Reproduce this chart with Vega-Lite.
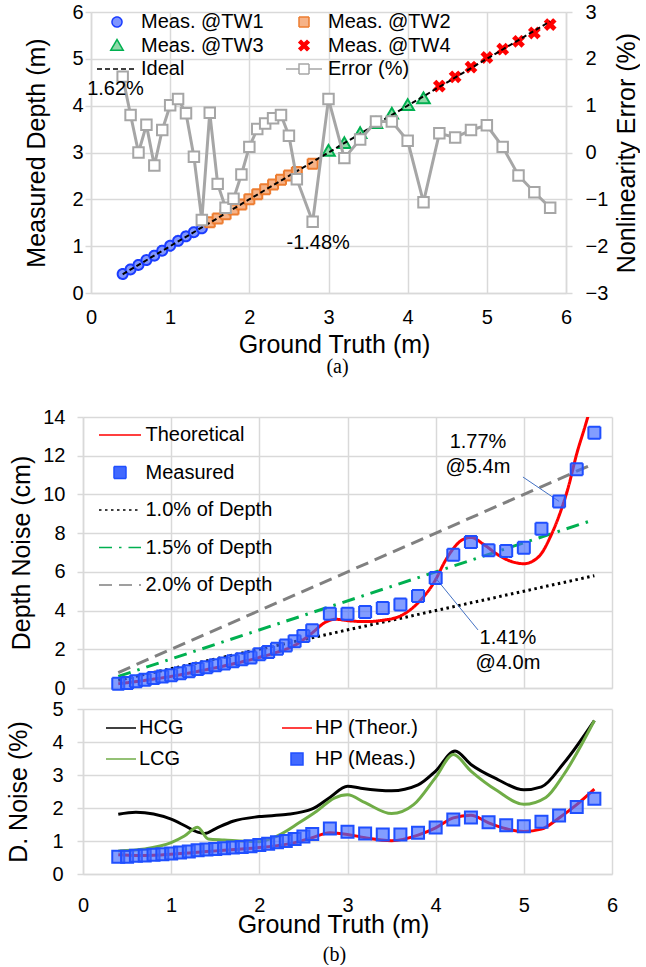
{
  "$schema": "https://vega.github.io/schema/vega-lite/v6.json",
  "padding": {"top": 2, "left": 6, "right": 0, "bottom": 0},
  "spacing": 30,
  "resolve": {"scale": {"shape": "independent", "fill": "independent", "stroke": "independent", "strokeDash": "independent", "x": "independent"}},
  "config": {
    "font": "Liberation Sans",
    "view": {"stroke": null},
    "axis": {
      "labelFont": "Liberation Sans", "labelFontSize": 20, "labelColor": "#000", "labelOverlap": false, "labelFlush": false,
      "titleFont": "Liberation Sans", "titleFontSize": 25, "titleFontWeight": "normal", "titleColor": "#000",
      "gridColor": "#d9d9d9", "gridWidth": 1.5, "domainColor": "#d9d9d9", "domainWidth": 1.5,
      "tickColor": "#d9d9d9", "tickSize": 6, "tickWidth": 1.5, "format": "d", "tickCount": 20
    },
    "legend": {"labelFont": "Liberation Sans", "labelFontSize": 20, "labelColor": "#000", "labelLimit": 400, "symbolOpacity": 1},
    "text": {"font": "Liberation Sans", "fontSize": 20, "color": "#000"}
  },
  "datasets": {
    "a": [
      {"s": "Meas. @TW1", "gt": 0.4, "d": 0.406, "e": 1.62},
      {"s": "Meas. @TW1", "gt": 0.5, "d": 0.504, "e": 0.8},
      {"s": "Meas. @TW1", "gt": 0.6, "d": 0.6, "e": 0.0},
      {"s": "Meas. @TW1", "gt": 0.7, "d": 0.704, "e": 0.59},
      {"s": "Meas. @TW1", "gt": 0.8, "d": 0.798, "e": -0.28},
      {"s": "Meas. @TW1", "gt": 0.9, "d": 0.904, "e": 0.48},
      {"s": "Meas. @TW1", "gt": 1.0, "d": 1.01, "e": 1.01},
      {"s": "Meas. @TW1", "gt": 1.1, "d": 1.113, "e": 1.14},
      {"s": "Meas. @TW1", "gt": 1.2, "d": 1.21, "e": 0.84},
      {"s": "Meas. @TW1", "gt": 1.3, "d": 1.299, "e": -0.09},
      {"s": "Meas. @TW1", "gt": 1.4, "d": 1.38, "e": -1.44},
      {"s": "Meas. @TW2", "gt": 1.5, "d": 1.513, "e": 0.85},
      {"s": "Meas. @TW2", "gt": 1.6, "d": 1.589, "e": -0.67},
      {"s": "Meas. @TW2", "gt": 1.7, "d": 1.68, "e": -1.18},
      {"s": "Meas. @TW2", "gt": 1.8, "d": 1.782, "e": -0.99},
      {"s": "Meas. @TW2", "gt": 1.9, "d": 1.891, "e": -0.47},
      {"s": "Meas. @TW2", "gt": 2.0, "d": 2.002, "e": 0.12},
      {"s": "Meas. @TW2", "gt": 2.1, "d": 2.111, "e": 0.5},
      {"s": "Meas. @TW2", "gt": 2.2, "d": 2.214, "e": 0.62},
      {"s": "Meas. @TW2", "gt": 2.3, "d": 2.317, "e": 0.73},
      {"s": "Meas. @TW2", "gt": 2.4, "d": 2.419, "e": 0.8},
      {"s": "Meas. @TW2", "gt": 2.5, "d": 2.509, "e": 0.36},
      {"s": "Meas. @TW2", "gt": 2.6, "d": 2.585, "e": -0.57},
      {"s": "Meas. @TW2", "gt": 2.8, "d": 2.759, "e": -1.48},
      {"s": "Meas. @TW3", "gt": 3.0, "d": 3.034, "e": 1.14},
      {"s": "Meas. @TW3", "gt": 3.2, "d": 3.196, "e": -0.12},
      {"s": "Meas. @TW3", "gt": 3.4, "d": 3.41, "e": 0.28},
      {"s": "Meas. @TW3", "gt": 3.6, "d": 3.624, "e": 0.66},
      {"s": "Meas. @TW3", "gt": 3.8, "d": 3.825, "e": 0.66},
      {"s": "Meas. @TW3", "gt": 4.0, "d": 4.01, "e": 0.25},
      {"s": "Meas. @TW3", "gt": 4.2, "d": 4.155, "e": -1.06},
      {"s": "Meas. @TW4", "gt": 4.4, "d": 4.418, "e": 0.41},
      {"s": "Meas. @TW4", "gt": 4.6, "d": 4.615, "e": 0.32},
      {"s": "Meas. @TW4", "gt": 4.8, "d": 4.823, "e": 0.48},
      {"s": "Meas. @TW4", "gt": 5.0, "d": 5.029, "e": 0.58},
      {"s": "Meas. @TW4", "gt": 5.2, "d": 5.206, "e": 0.12},
      {"s": "Meas. @TW4", "gt": 5.4, "d": 5.374, "e": -0.49},
      {"s": "Meas. @TW4", "gt": 5.6, "d": 5.552, "e": -0.85},
      {"s": "Meas. @TW4", "gt": 5.8, "d": 5.732, "e": -1.18}
    ],
    "bm": [
      {"s1": "Measured", "s2": "HP (Meas.)", "gt": 0.4, "cm": 0.22, "pct": 0.52},
      {"s1": "Measured", "s2": "HP (Meas.)", "gt": 0.5, "cm": 0.26, "pct": 0.52},
      {"s1": "Measured", "s2": "HP (Meas.)", "gt": 0.6, "cm": 0.35, "pct": 0.55},
      {"s1": "Measured", "s2": "HP (Meas.)", "gt": 0.7, "cm": 0.43, "pct": 0.56},
      {"s1": "Measured", "s2": "HP (Meas.)", "gt": 0.8, "cm": 0.52, "pct": 0.58},
      {"s1": "Measured", "s2": "HP (Meas.)", "gt": 0.9, "cm": 0.6, "pct": 0.6},
      {"s1": "Measured", "s2": "HP (Meas.)", "gt": 1.0, "cm": 0.66, "pct": 0.62},
      {"s1": "Measured", "s2": "HP (Meas.)", "gt": 1.1, "cm": 0.76, "pct": 0.65},
      {"s1": "Measured", "s2": "HP (Meas.)", "gt": 1.2, "cm": 0.86, "pct": 0.68},
      {"s1": "Measured", "s2": "HP (Meas.)", "gt": 1.3, "cm": 0.98, "pct": 0.72},
      {"s1": "Measured", "s2": "HP (Meas.)", "gt": 1.4, "cm": 1.07, "pct": 0.74},
      {"s1": "Measured", "s2": "HP (Meas.)", "gt": 1.5, "cm": 1.17, "pct": 0.76},
      {"s1": "Measured", "s2": "HP (Meas.)", "gt": 1.6, "cm": 1.26, "pct": 0.78},
      {"s1": "Measured", "s2": "HP (Meas.)", "gt": 1.7, "cm": 1.38, "pct": 0.8},
      {"s1": "Measured", "s2": "HP (Meas.)", "gt": 1.8, "cm": 1.48, "pct": 0.82},
      {"s1": "Measured", "s2": "HP (Meas.)", "gt": 1.9, "cm": 1.58, "pct": 0.84},
      {"s1": "Measured", "s2": "HP (Meas.)", "gt": 2.0, "cm": 1.74, "pct": 0.88},
      {"s1": "Measured", "s2": "HP (Meas.)", "gt": 2.1, "cm": 1.86, "pct": 0.92},
      {"s1": "Measured", "s2": "HP (Meas.)", "gt": 2.2, "cm": 2.03, "pct": 0.96},
      {"s1": "Measured", "s2": "HP (Meas.)", "gt": 2.3, "cm": 2.2, "pct": 1.0},
      {"s1": "Measured", "s2": "HP (Meas.)", "gt": 2.4, "cm": 2.41, "pct": 1.06},
      {"s1": "Measured", "s2": "HP (Meas.)", "gt": 2.5, "cm": 2.69, "pct": 1.14},
      {"s1": "Measured", "s2": "HP (Meas.)", "gt": 2.6, "cm": 2.98, "pct": 1.21},
      {"s1": "Measured", "s2": "HP (Meas.)", "gt": 2.8, "cm": 3.84, "pct": 1.38},
      {"s1": "Measured", "s2": "HP (Meas.)", "gt": 3.0, "cm": 3.84, "pct": 1.28},
      {"s1": "Measured", "s2": "HP (Meas.)", "gt": 3.2, "cm": 3.93, "pct": 1.23},
      {"s1": "Measured", "s2": "HP (Meas.)", "gt": 3.4, "cm": 4.13, "pct": 1.2},
      {"s1": "Measured", "s2": "HP (Meas.)", "gt": 3.6, "cm": 4.32, "pct": 1.2},
      {"s1": "Measured", "s2": "HP (Meas.)", "gt": 3.8, "cm": 4.75, "pct": 1.25},
      {"s1": "Measured", "s2": "HP (Meas.)", "gt": 4.0, "cm": 5.68, "pct": 1.41},
      {"s1": "Measured", "s2": "HP (Meas.)", "gt": 4.2, "cm": 6.89, "pct": 1.65},
      {"s1": "Measured", "s2": "HP (Meas.)", "gt": 4.4, "cm": 7.54, "pct": 1.71},
      {"s1": "Measured", "s2": "HP (Meas.)", "gt": 4.6, "cm": 7.11, "pct": 1.57},
      {"s1": "Measured", "s2": "HP (Meas.)", "gt": 4.8, "cm": 7.08, "pct": 1.48},
      {"s1": "Measured", "s2": "HP (Meas.)", "gt": 5.0, "cm": 7.25, "pct": 1.45},
      {"s1": "Measured", "s2": "HP (Meas.)", "gt": 5.2, "cm": 8.23, "pct": 1.58},
      {"s1": "Measured", "s2": "HP (Meas.)", "gt": 5.4, "cm": 9.64, "pct": 1.77},
      {"s1": "Measured", "s2": "HP (Meas.)", "gt": 5.6, "cm": 11.3, "pct": 2.03},
      {"s1": "Measured", "s2": "HP (Meas.)", "gt": 5.8, "cm": 13.19, "pct": 2.28}
    ],
    "bl": [
      {"s": "2.0% of Depth", "gt": 0.4, "cm": 0.8},
      {"s": "2.0% of Depth", "gt": 5.8, "cm": 11.6},
      {"s": "1.5% of Depth", "gt": 0.4, "cm": 0.6},
      {"s": "1.5% of Depth", "gt": 5.8, "cm": 8.7},
      {"s": "1.0% of Depth", "gt": 0.4, "cm": 0.4},
      {"s": "1.0% of Depth", "gt": 5.8, "cm": 5.8},
      {"s": "Theoretical", "gt": 0.4, "cm": 0.22},
      {"s": "Theoretical", "gt": 0.6, "cm": 0.33},
      {"s": "Theoretical", "gt": 0.8, "cm": 0.46},
      {"s": "Theoretical", "gt": 1.0, "cm": 0.6},
      {"s": "Theoretical", "gt": 1.2, "cm": 0.77},
      {"s": "Theoretical", "gt": 1.4, "cm": 0.95},
      {"s": "Theoretical", "gt": 1.6, "cm": 1.14},
      {"s": "Theoretical", "gt": 1.8, "cm": 1.35},
      {"s": "Theoretical", "gt": 2.0, "cm": 1.58},
      {"s": "Theoretical", "gt": 2.2, "cm": 1.85},
      {"s": "Theoretical", "gt": 2.4, "cm": 2.2},
      {"s": "Theoretical", "gt": 2.6, "cm": 2.85},
      {"s": "Theoretical", "gt": 2.75, "cm": 3.4},
      {"s": "Theoretical", "gt": 2.87, "cm": 3.55},
      {"s": "Theoretical", "gt": 3.0, "cm": 3.48},
      {"s": "Theoretical", "gt": 3.2, "cm": 3.43},
      {"s": "Theoretical", "gt": 3.4, "cm": 3.5},
      {"s": "Theoretical", "gt": 3.6, "cm": 3.72},
      {"s": "Theoretical", "gt": 3.8, "cm": 4.4},
      {"s": "Theoretical", "gt": 4.0, "cm": 5.6},
      {"s": "Theoretical", "gt": 4.1, "cm": 6.5},
      {"s": "Theoretical", "gt": 4.2, "cm": 7.2},
      {"s": "Theoretical", "gt": 4.3, "cm": 7.65},
      {"s": "Theoretical", "gt": 4.4, "cm": 7.78},
      {"s": "Theoretical", "gt": 4.55, "cm": 7.4},
      {"s": "Theoretical", "gt": 4.7, "cm": 6.9},
      {"s": "Theoretical", "gt": 4.85, "cm": 6.55},
      {"s": "Theoretical", "gt": 5.0, "cm": 6.42},
      {"s": "Theoretical", "gt": 5.1, "cm": 6.55},
      {"s": "Theoretical", "gt": 5.2, "cm": 6.95},
      {"s": "Theoretical", "gt": 5.3, "cm": 7.8},
      {"s": "Theoretical", "gt": 5.4, "cm": 8.9},
      {"s": "Theoretical", "gt": 5.5, "cm": 10.3},
      {"s": "Theoretical", "gt": 5.6, "cm": 12.1},
      {"s": "Theoretical", "gt": 5.7, "cm": 13.6},
      {"s": "Theoretical", "gt": 5.8, "cm": 15.2}
    ],
    "bc": [
      {"s": "HCG", "gt": 0.4, "p": 1.81}, {"s": "HCG", "gt": 0.6, "p": 1.87}, {"s": "HCG", "gt": 0.8, "p": 1.82},
      {"s": "HCG", "gt": 1.0, "p": 1.66}, {"s": "HCG", "gt": 1.15, "p": 1.47}, {"s": "HCG", "gt": 1.3, "p": 1.27},
      {"s": "HCG", "gt": 1.38, "p": 1.23}, {"s": "HCG", "gt": 1.5, "p": 1.37}, {"s": "HCG", "gt": 1.7, "p": 1.6},
      {"s": "HCG", "gt": 2.0, "p": 1.74}, {"s": "HCG", "gt": 2.3, "p": 1.8}, {"s": "HCG", "gt": 2.6, "p": 1.97},
      {"s": "HCG", "gt": 2.8, "p": 2.32}, {"s": "HCG", "gt": 3.0, "p": 2.66}, {"s": "HCG", "gt": 3.15, "p": 2.6},
      {"s": "HCG", "gt": 3.5, "p": 2.52}, {"s": "HCG", "gt": 3.8, "p": 2.7}, {"s": "HCG", "gt": 4.0, "p": 3.12},
      {"s": "HCG", "gt": 4.22, "p": 3.73}, {"s": "HCG", "gt": 4.4, "p": 3.32}, {"s": "HCG", "gt": 4.7, "p": 2.87},
      {"s": "HCG", "gt": 5.0, "p": 2.55}, {"s": "HCG", "gt": 5.2, "p": 2.64}, {"s": "HCG", "gt": 5.45, "p": 3.35},
      {"s": "HCG", "gt": 5.8, "p": 4.65},
      {"s": "LCG", "gt": 0.4, "p": 0.7}, {"s": "LCG", "gt": 0.7, "p": 0.76}, {"s": "LCG", "gt": 1.0, "p": 0.95},
      {"s": "LCG", "gt": 1.15, "p": 1.15}, {"s": "LCG", "gt": 1.3, "p": 1.42}, {"s": "LCG", "gt": 1.42, "p": 1.06},
      {"s": "LCG", "gt": 1.6, "p": 1.03}, {"s": "LCG", "gt": 2.0, "p": 0.98}, {"s": "LCG", "gt": 2.2, "p": 1.15},
      {"s": "LCG", "gt": 2.45, "p": 1.55}, {"s": "LCG", "gt": 2.65, "p": 1.9}, {"s": "LCG", "gt": 2.85, "p": 2.3},
      {"s": "LCG", "gt": 3.0, "p": 2.4}, {"s": "LCG", "gt": 3.2, "p": 2.16}, {"s": "LCG", "gt": 3.5, "p": 1.83},
      {"s": "LCG", "gt": 3.75, "p": 2.1}, {"s": "LCG", "gt": 4.0, "p": 2.93}, {"s": "LCG", "gt": 4.2, "p": 3.62},
      {"s": "LCG", "gt": 4.4, "p": 3.12}, {"s": "LCG", "gt": 4.7, "p": 2.52}, {"s": "LCG", "gt": 5.0, "p": 2.11},
      {"s": "LCG", "gt": 5.25, "p": 2.32}, {"s": "LCG", "gt": 5.45, "p": 3.0}, {"s": "LCG", "gt": 5.8, "p": 4.65},
      {"s": "HP (Theor.)", "gt": 0.4, "p": 0.58}, {"s": "HP (Theor.)", "gt": 0.6, "p": 0.56}, {"s": "HP (Theor.)", "gt": 0.8, "p": 0.57},
      {"s": "HP (Theor.)", "gt": 1.0, "p": 0.6}, {"s": "HP (Theor.)", "gt": 1.2, "p": 0.64}, {"s": "HP (Theor.)", "gt": 1.4, "p": 0.68},
      {"s": "HP (Theor.)", "gt": 1.6, "p": 0.72}, {"s": "HP (Theor.)", "gt": 1.8, "p": 0.76}, {"s": "HP (Theor.)", "gt": 2.0, "p": 0.8},
      {"s": "HP (Theor.)", "gt": 2.2, "p": 0.86}, {"s": "HP (Theor.)", "gt": 2.4, "p": 0.95}, {"s": "HP (Theor.)", "gt": 2.6, "p": 1.1},
      {"s": "HP (Theor.)", "gt": 2.8, "p": 1.25}, {"s": "HP (Theor.)", "gt": 3.0, "p": 1.2}, {"s": "HP (Theor.)", "gt": 3.2, "p": 1.1},
      {"s": "HP (Theor.)", "gt": 3.5, "p": 1.01}, {"s": "HP (Theor.)", "gt": 3.8, "p": 1.18}, {"s": "HP (Theor.)", "gt": 4.0, "p": 1.4},
      {"s": "HP (Theor.)", "gt": 4.2, "p": 1.7}, {"s": "HP (Theor.)", "gt": 4.4, "p": 1.78}, {"s": "HP (Theor.)", "gt": 4.6, "p": 1.55},
      {"s": "HP (Theor.)", "gt": 4.8, "p": 1.37}, {"s": "HP (Theor.)", "gt": 5.0, "p": 1.29}, {"s": "HP (Theor.)", "gt": 5.2, "p": 1.36},
      {"s": "HP (Theor.)", "gt": 5.4, "p": 1.7}, {"s": "HP (Theor.)", "gt": 5.6, "p": 2.1}, {"s": "HP (Theor.)", "gt": 5.8, "p": 2.57}
    ],
    "bann": [
      {"gt": 4.48, "cm": 12.72, "gt2": 4.99, "cm2": 10.9, "gtp": 5.4, "cmp": 9.64, "t": "1.77%\n@5.4m"},
      {"gt": 4.82, "cm": 2.57, "gt2": 4.48, "cm2": 3.0, "gtp": 4.0, "cmp": 5.68, "t": "1.41%\n@4.0m"}
    ]
  },
  "vconcat": [
    {
      "width": 483,
      "height": 281,
      "title": {"text": "(a)", "orient": "bottom", "font": "Liberation Serif", "fontSize": 20, "fontWeight": "normal", "frame": "group", "anchor": "middle", "dx": 13, "offset": 0, "color": "#000"},
      "resolve": {"scale": {"y": "independent"}},
      "layer": [
        {
          "layer": [
            {
              "data": {"name": "a"},
              "mark": {"type": "point", "filled": true, "size": 100, "strokeWidth": 2, "opacity": 1},
              "encoding": {
                "x": {"field": "gt", "type": "quantitative", "scale": {"domain": [0, 6], "range": [8, 483]},
                  "axis": {"values": [0, 1, 2, 3, 4, 5, 6], "title": "Ground Truth (m)", "titleX": 251, "labelPadding": 14, "ticks": false, "titlePadding": 5, "grid": true, "labelOverlap": false}},
                "y": {"field": "d", "type": "quantitative", "scale": {"domain": [0, 6]},
                  "axis": {"values": [0, 1, 2, 3, 4, 5, 6], "title": "Measured Depth (m)", "offset": -8, "labelPadding": 2, "titlePadding": 22, "grid": true, "labelOverlap": false}},
                "shape": {"field": "s", "type": "nominal",
                  "scale": {"domain": ["Meas. @TW1", "Meas. @TW3", "Ideal", "Meas. @TW2", "Meas. @TW4", "Error (%)"],
                    "range": ["circle", "M0,-1.2L1.25,0.95L-1.25,0.95Z", "M-4,0H4", "square", "M-1,-0.6L-0.6,-1L0,-0.4L0.6,-1L1,-0.6L0.4,0L1,0.6L0.6,1L0,0.4L-0.6,1L-1,0.6L-0.4,0Z", "M-3.6,0H-1M1,0H3.6M-1,-1H1V1H-1Z"]},
                  "legend": {"title": null, "orient": "none", "legendX": 24, "legendY": 0, "columns": 2, "columnPadding": 19, "rowPadding": 3.5, "padding": 0, "symbolSize": 100, "labelOffset": 14}},
                "fill": {"field": "s", "type": "nominal",
                  "scale": {"domain": ["Meas. @TW1", "Meas. @TW3", "Ideal", "Meas. @TW2", "Meas. @TW4", "Error (%)"],
                    "range": ["#7f95ff", "#8fd9a8", "transparent", "#f6b388", "#ff0000", "#ffffff"]},
                  "legend": {"title": null, "orient": "none", "legendX": 24, "legendY": 0, "columns": 2, "columnPadding": 19, "rowPadding": 3.5, "padding": 0, "symbolSize": 100, "labelOffset": 14}},
                "stroke": {"field": "s", "type": "nominal",
                  "scale": {"domain": ["Meas. @TW1", "Meas. @TW3", "Ideal", "Meas. @TW2", "Meas. @TW4", "Error (%)"],
                    "range": ["#1a3cff", "#00b050", "#000000", "#ed7d31", "#ff0000", "#a6a6a6"]},
                  "legend": {"title": null, "orient": "none", "legendX": 24, "legendY": 0, "columns": 2, "columnPadding": 19, "rowPadding": 3.5, "padding": 0, "symbolSize": 100, "labelOffset": 14}},
                "strokeDash": {"field": "s", "type": "nominal",
                  "scale": {"domain": ["Meas. @TW1", "Meas. @TW3", "Ideal", "Meas. @TW2", "Meas. @TW4", "Error (%)"],
                    "range": [[1, 0], [1, 0], [5, 3], [1, 0], [1, 0], [1, 0]]},
                  "legend": {"title": null, "orient": "none", "legendX": 24, "legendY": 0, "columns": 2, "columnPadding": 19, "rowPadding": 3.5, "padding": 0, "symbolSize": 100, "labelOffset": 14}}
              }
            },
            {
              "data": {"values": [{"gt": 0.4, "d": 0.4}, {"gt": 5.8, "d": 5.8}]},
              "mark": {"type": "line", "color": "#000", "strokeDash": [5, 3], "strokeWidth": 2},
              "encoding": {
                "x": {"field": "gt", "type": "quantitative"},
                "y": {"field": "d", "type": "quantitative"}
              }
            }
          ]
        },
        {
          "layer": [
            {
              "data": {"name": "a"},
              "mark": {"type": "line", "color": "#a6a6a6", "strokeWidth": 3,
                "point": {"shape": "square", "filled": true, "fill": "#ffffff", "stroke": "#a6a6a6", "strokeWidth": 2, "size": 110, "opacity": 1}},
              "encoding": {
                "x": {"field": "gt", "type": "quantitative"},
                "y": {"field": "e", "type": "quantitative", "scale": {"domain": [-3, 3]},
                  "axis": {"orient": "right", "values": [-3, -2, -1, 0, 1, 2, 3], "title": "Nonlinearity Error (%)", "titleAngle": 270, "titleBaseline": "top", "labelPadding": 13, "titlePadding": 7, "grid": false, "labelOverlap": false}}
              }
            },
            {
              "data": {"values": [{"gt": 0.31, "e": 1.36, "t": "1.62%"}, {"gt": 2.87, "e": -1.93, "t": "-1.48%"}]},
              "mark": {"type": "text", "fontSize": 20},
              "encoding": {
                "x": {"field": "gt", "type": "quantitative"},
                "y": {"field": "e", "type": "quantitative"},
                "text": {"field": "t"}
              }
            }
          ]
        }
      ]
    },
    {
      "spacing": 1,
      "resolve": {"scale": {"shape": "independent", "fill": "independent", "stroke": "independent", "strokeDash": "independent", "x": "independent"}},
      "vconcat": [
        {
          "width": 529,
          "height": 271,
          "layer": [
            {
              "data": {"name": "bl"},
              "mark": {"type": "line", "strokeWidth": 3, "clip": true, "interpolate": "monotone"},
              "encoding": {
                "x": {"field": "gt", "type": "quantitative", "scale": {"domain": [0, 6]},
                  "axis": {"values": [0, 1, 2, 3, 4, 5, 6], "labels": false, "ticks": false, "title": null, "grid": true}},
                "y": {"field": "cm", "type": "quantitative", "scale": {"domain": [0, 14]},
                  "axis": {"values": [0, 2, 4, 6, 8, 10, 12, 14], "tickCount": 20, "title": "Depth Noise (cm)", "labelPadding": 12, "titlePadding": 8, "grid": true, "labelOverlap": false}},
                "stroke": {"field": "s", "type": "nominal",
                  "scale": {"domain": ["Theoretical", "Measured", "1.0% of Depth", "1.5% of Depth", "2.0% of Depth"],
                    "range": ["#ff0000", "#1f4fff", "#000000", "#00b050", "#808080"]},
                  "legend": {"title": null, "orient": "none", "legendX": 27, "legendY": 8, "rowPadding": 17.5, "padding": 0, "symbolSize": 144, "labelOffset": 15.5}},
                "strokeDash": {"field": "s", "type": "nominal",
                  "scale": {"domain": ["Theoretical", "Measured", "1.0% of Depth", "1.5% of Depth", "2.0% of Depth"],
                    "range": [[1, 0], [1, 0], [2.5, 3.5], [13, 7, 2.5, 7], [13, 7]]},
                  "legend": {"title": null, "orient": "none", "legendX": 27, "legendY": 8, "rowPadding": 17.5, "padding": 0, "symbolSize": 144, "labelOffset": 15.5}}
              }
            },
            {
              "data": {"name": "bann"},
              "mark": {"type": "rule", "color": "#4472c4", "strokeWidth": 1},
              "encoding": {
                "x": {"field": "gt2", "type": "quantitative"},
                "y": {"field": "cm2", "type": "quantitative"},
                "x2": {"field": "gtp"},
                "y2": {"field": "cmp"}
              }
            },
            {
              "data": {"name": "bm"},
              "mark": {"type": "point", "filled": true, "size": 144, "strokeWidth": 2, "fillOpacity": 0.65, "opacity": 1},
              "encoding": {
                "x": {"field": "gt", "type": "quantitative"},
                "y": {"field": "cm", "type": "quantitative"},
                "shape": {"field": "s1", "type": "nominal",
                  "scale": {"domain": ["Theoretical", "Measured", "1.0% of Depth", "1.5% of Depth", "2.0% of Depth"],
                    "range": ["M-3.5,0H3.5", "square", "M-3.5,0H3.5", "M-3.5,0H3.5", "M-3.5,0H3.5"]},
                  "legend": {"title": null, "orient": "none", "legendX": 27, "legendY": 8, "rowPadding": 17.5, "padding": 0, "symbolSize": 144, "labelOffset": 15.5}},
                "fill": {"field": "s1", "type": "nominal",
                  "scale": {"domain": ["Theoretical", "Measured", "1.0% of Depth", "1.5% of Depth", "2.0% of Depth"],
                    "range": ["transparent", "#4169ff", "transparent", "transparent", "transparent"]},
                  "legend": {"title": null, "orient": "none", "legendX": 27, "legendY": 8, "rowPadding": 17.5, "padding": 0, "symbolSize": 144, "labelOffset": 15.5}},
                "stroke": {"field": "s1", "type": "nominal",
                  "legend": {"title": null, "orient": "none", "legendX": 27, "legendY": 8, "rowPadding": 17.5, "padding": 0, "symbolSize": 144, "labelOffset": 15.5}},
                "strokeDash": {"field": "s1", "type": "nominal",
                  "legend": {"title": null, "orient": "none", "legendX": 27, "legendY": 8, "rowPadding": 17.5, "padding": 0, "symbolSize": 144, "labelOffset": 15.5}}
              }
            },
            {
              "data": {"name": "bann"},
              "mark": {"type": "text", "fontSize": 20, "lineBreak": "\n", "lineHeight": 25},
              "encoding": {
                "x": {"field": "gt", "type": "quantitative"},
                "y": {"field": "cm", "type": "quantitative"},
                "text": {"field": "t"}
              }
            }
          ]
        },
        {
          "width": 529,
          "height": 165,
          "title": {"text": "(b)", "orient": "bottom", "font": "Liberation Serif", "fontSize": 20, "fontWeight": "normal", "frame": "group", "anchor": "middle", "dx": -13, "offset": 8, "color": "#000"},
          "layer": [
            {
              "data": {"name": "bc"},
              "mark": {"type": "line", "strokeWidth": 3, "interpolate": "monotone"},
              "encoding": {
                "x": {"field": "gt", "type": "quantitative", "scale": {"domain": [0, 6]},
                  "axis": {"values": [0, 1, 2, 3, 4, 5, 6], "title": "Ground Truth (m)", "titleX": 250, "labelPadding": 21, "ticks": false, "titlePadding": -3, "grid": true, "labelOverlap": false}},
                "y": {"field": "p", "type": "quantitative", "scale": {"domain": [0, 5]},
                  "axis": {"values": [0, 1, 2, 3, 4, 5], "tickCount": 20, "title": "D. Noise (%)", "labelPadding": 14, "titlePadding": 20, "grid": true, "labelOverlap": false}},
                "stroke": {"field": "s", "type": "nominal",
                  "scale": {"domain": ["HCG", "LCG", "HP (Theor.)", "HP (Meas.)"], "range": ["#000000", "#70ad47", "#ff0000", "#1f4fff"]},
                  "legend": {"title": null, "orient": "none", "legendX": 28, "legendY": 9, "columns": 2, "columnPadding": 95, "rowPadding": 11, "padding": 0, "symbolSize": 144, "labelOffset": 8}}
              }
            },
            {
              "data": {"name": "bm"},
              "mark": {"type": "point", "filled": true, "size": 144, "strokeWidth": 2, "fillOpacity": 0.65, "opacity": 1},
              "encoding": {
                "x": {"field": "gt", "type": "quantitative"},
                "y": {"field": "pct", "type": "quantitative"},
                "shape": {"field": "s2", "type": "nominal",
                  "scale": {"domain": ["HCG", "LCG", "HP (Theor.)", "HP (Meas.)"], "range": ["M-2.5,0H2.5", "M-2.5,0H2.5", "M-2.5,0H2.5", "square"]},
                  "legend": {"title": null, "orient": "none", "legendX": 28, "legendY": 9, "columns": 2, "columnPadding": 95, "rowPadding": 11, "padding": 0, "symbolSize": 144, "labelOffset": 8}},
                "fill": {"field": "s2", "type": "nominal",
                  "scale": {"domain": ["HCG", "LCG", "HP (Theor.)", "HP (Meas.)"], "range": ["transparent", "transparent", "transparent", "#4169ff"]},
                  "legend": {"title": null, "orient": "none", "legendX": 28, "legendY": 9, "columns": 2, "columnPadding": 95, "rowPadding": 11, "padding": 0, "symbolSize": 144, "labelOffset": 8}},
                "stroke": {"field": "s2", "type": "nominal",
                  "legend": {"title": null, "orient": "none", "legendX": 28, "legendY": 9, "columns": 2, "columnPadding": 95, "rowPadding": 11, "padding": 0, "symbolSize": 144, "labelOffset": 8}}
              }
            }
          ]
        }
      ]
    }
  ]
}
